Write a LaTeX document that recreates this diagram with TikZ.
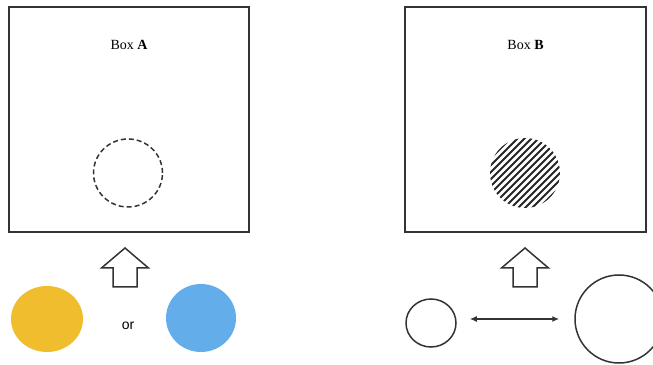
\documentclass[tikz,border=0pt]{standalone}
\usepackage{fontspec}
\setmainfont{Liberation Serif}
\newfontfamily\orfont{Liberation Sans}
\usetikzlibrary{arrows.meta,positioning,calc,shapes.geometric}
\definecolor{DotYellow}{HTML}{F0BD2E}
\definecolor{DotBlue}{HTML}{63AEEA}
\definecolor{EdgeGray}{HTML}{333333}

\begin{document}
\begin{tikzpicture}[x=1pt,y=1pt,
    frame/.style={draw=EdgeGray,line width=2pt,minimum width=240pt,minimum height=225pt,inner sep=0pt},
    dot/.style={ellipse,inner sep=0pt},
    ring/.style={dot,draw=EdgeGray,line width=1.5pt},
    uparrow/.pic={\draw[EdgeGray,line width=1.5pt,line join=miter] (0,0)--(-23.5,-20)--(-12,-20)--(-12,-39)--(12,-39)--(12,-20)--(23.5,-20)--cycle;},
    every node/.style={font=\fontsize{14}{16}\selectfont}]
    \clip (0,0) rectangle (653,364);
    \node[frame] (boxA) at (129,244.5) {};
    \node[frame,minimum width=241pt] (boxB) at (525.5,244.5) {};
    \node (labA) at (129,319) {Box \textbf{A}};
    \node (labB) at (525.5,319) {Box \textbf{B}};
    \node[ring,dash pattern=on 5pt off 3pt,minimum width=69pt,minimum height=68pt] (slotA) at (128,191) {};
    \node[dot,minimum width=70pt,minimum height=70pt] (slotB) at (525,191) {};
    \begin{scope}
      \clip (slotB.center) circle (35);
      \foreach \i in {-98,-91,...,98}
        \draw[black!85,line width=2pt] ($(slotB.center)+(\i-45,-45)$) -- ++(90,90);
    \end{scope}
    \pic at (125,116) {uparrow};
    \pic at (525,116) {uparrow};
    \node[dot,fill=DotYellow,minimum width=72pt,minimum height=66pt] (yellow) at (47,45) {};
    \node[dot,fill=DotBlue,minimum width=70pt,minimum height=68pt] (blue) at (201,46) {};
    \node[anchor=base,font=\orfont\fontsize{14}{16}\selectfont] (or) at (128,34.5) {or};
    \node[ring,minimum width=50pt,minimum height=48pt] (small) at (431,41) {};
    \node[ring,minimum width=88pt,minimum height=88pt] (large) at (619,45) {};
    \draw[{Latex[length=7pt,width=6pt]}-{Latex[length=7pt,width=6pt]},EdgeGray,line width=1.5pt,shorten <=13pt,shorten >=15pt] (small.east|-0,45)--(large.west);
  \end{tikzpicture}
\end{document}
